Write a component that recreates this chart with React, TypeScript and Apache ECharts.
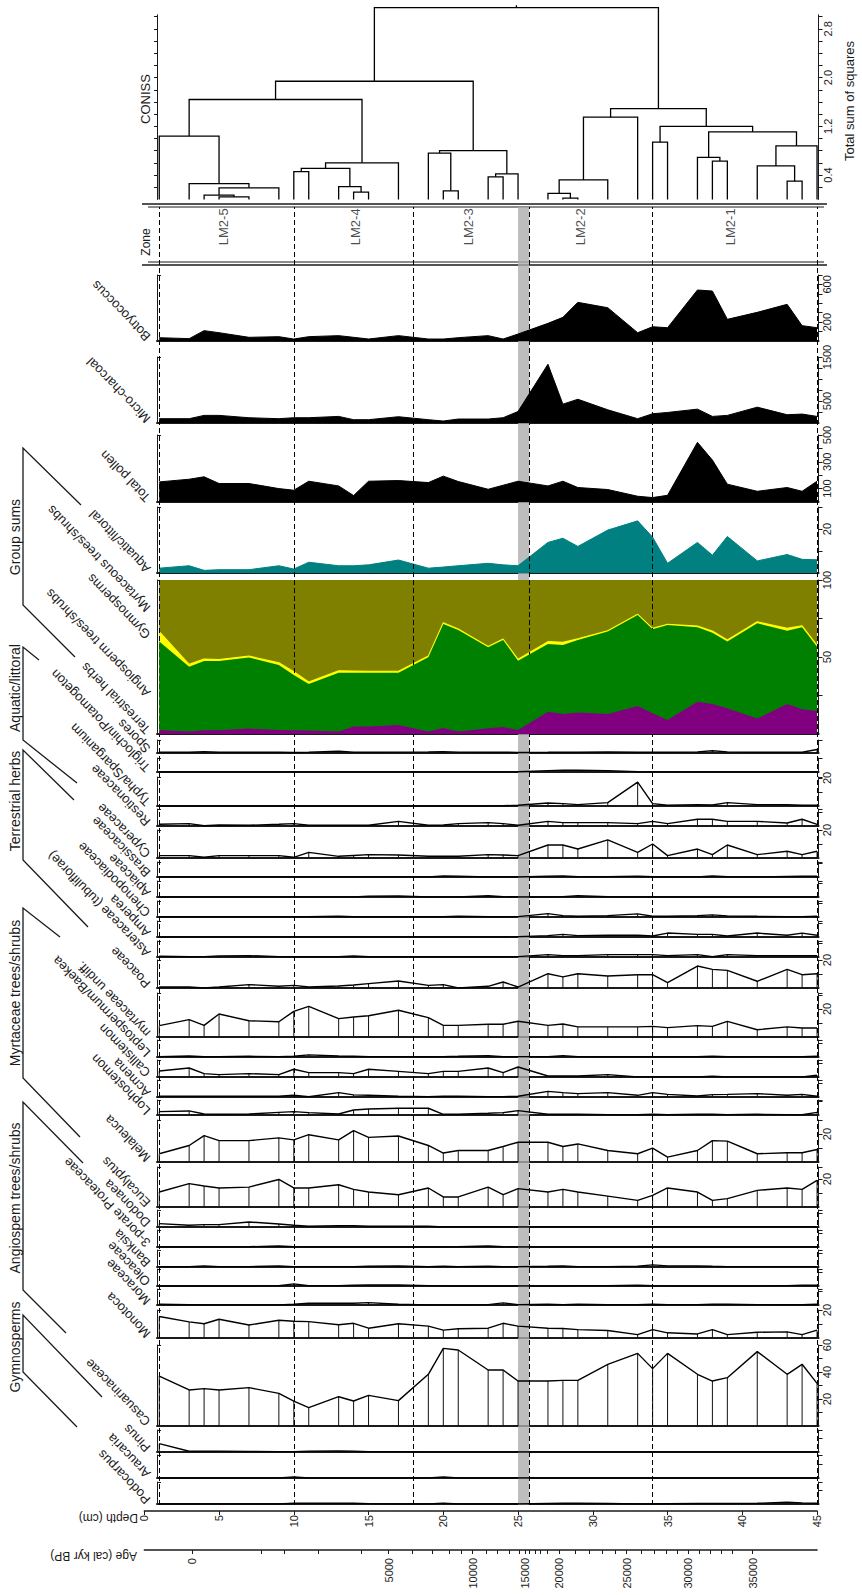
import React, { useEffect, useRef } from "react";
import * as echarts from "echarts";

// ---------------- DATA ----------------
const depths = [1, 3, 4, 5, 7, 9, 10, 11, 13, 14, 15, 17, 19, 20, 21, 23, 24, 25, 27, 28, 29, 31, 33, 34, 35, 37, 38, 39, 41, 43, 44, 45];

const botryococcus = [35, 25, 110, 88, 39, 46, 21, 46, 57, 39, 21, 57, 21, 21, 35, 57, 21, 74, 187, 251, 410, 353, 88, 151, 141, 541, 530, 230, 304, 389, 163, 141];
const microCharcoal = [98, 98, 173, 173, 120, 98, 120, 120, 150, 75, 75, 143, 75, 45, 90, 90, 120, 262, 1335, 428, 540, 300, 98, 210, 240, 315, 150, 173, 360, 188, 203, 150];
const totalPollen = [150, 170, 188, 138, 138, 100, 88, 155, 120, 48, 155, 160, 145, 193, 153, 95, 125, 155, 120, 155, 108, 93, 43, 33, 50, 445, 313, 133, 80, 108, 80, 155];
const aquaticLittoral = [2.2, 3.3, 1.2, 1.5, 1.5, 3.3, 1.8, 4.9, 3.3, 3.3, 3.7, 5.9, 2.2, 2.7, 3.3, 4.4, 3.7, 3.3, 13.9, 15.8, 12.1, 19.5, 23.7, 16.3, 4.4, 13.9, 8.1, 16.6, 5.5, 8.4, 6.2, 6.0];

const terrestrialHerbsPct = [2.6, 1.7, 2.4, 2.4, 3.5, 2.6, 2.4, 2.2, 1.7, 4.8, 4.8, 5.8, 1.7, 3.9, 1.7, 3.7, 4.5, 2.6, 14.5, 13.0, 13.9, 13.0, 18.2, 13.4, 9.1, 21.0, 19.5, 16.7, 10.0, 19.5, 16.0, 15.0];
const angiospermPct = [57.4, 42.0, 45.0, 45.0, 46.1, 42.2, 35.9, 30.3, 38.1, 35.0, 35.0, 34.0, 48.1, 67.5, 65.8, 52.6, 56.5, 45.0, 43.9, 44.8, 47.1, 53.5, 59.1, 54.6, 61.7, 48.3, 46.3, 43.3, 61.9, 47.6, 53.3, 41.7];
const gymnospermPct = [6.4, 1.5, 1.3, 0.9, 1.0, 1.5, 2.2, 1.3, 1.3, 1.1, 0.9, 0.9, 0.8, 0.9, 0.7, 0.6, 0.7, 0.9, 1.6, 1.7, 0.9, 0.6, 0.4, 0.6, 0.4, 0.8, 1.1, 1.0, 1.0, 1.5, 1.0, 0.9];
const myrtaceousPct = [33.6, 54.8, 51.3, 51.7, 49.4, 53.7, 59.5, 66.2, 58.9, 59.1, 59.3, 59.3, 49.4, 27.7, 31.8, 43.1, 38.3, 51.5, 40.0, 40.5, 38.1, 32.9, 22.3, 31.4, 28.8, 29.9, 33.1, 39.0, 27.1, 31.4, 29.7, 42.4];

const spores = [0.6, 0.5, 1.0, 0.5, 0.6, 0.5, 0.4, 0.6, 1.2, 0.6, 0.5, 0.6, 0.8, 1.0, 0.6, 0.5, 0.6, 0.4, 0.5, 0.6, 0.5, 0.8, 0.5, 0.6, 0.5, 0.8, 1.6, 0.8, 0.5, 0.6, 0.5, 2.5];
const triglochin = [0, 0, 0, 0, 0, 0, 0, 0, 0, 0, 0, 0, 0, 0, 0, 0, 0, 0.2, 1.0, 1.2, 1.2, 1.0, 0.2, 0, 0, 0, 0, 0, 0, 0, 0, 0];
const typha = [0, 0, 0, 0, 0, 0, 0, 0, 0, 0, 0, 0, 0, 0, 0, 0, 0.2, 0.5, 2.1, 1.7, 1.0, 2.4, 17.0, 1.7, 0.5, 1.0, 0.7, 2.4, 1.0, 1.0, 0.5, 0.5];
const restionaceae = [1.2, 1.7, 0.2, 0.7, 0.5, 1.2, 1.7, 0.5, 0.5, 0.5, 0.5, 3.3, 0.5, 0.7, 1.7, 2.4, 1.7, 0.5, 3.3, 2.4, 2.4, 2.4, 1.7, 3.3, 1.7, 4.8, 4.8, 3.3, 3.3, 2.1, 4.8, 1.2];
const cyperaceae = [1.7, 1.7, 0.5, 1.7, 1.7, 1.7, 0.5, 4.0, 1.2, 1.8, 2.4, 2.1, 1.2, 1.2, 1.2, 2.4, 2.1, 1.7, 9.3, 9.3, 6.4, 12.9, 4.0, 10.0, 1.7, 6.4, 2.4, 9.3, 2.4, 4.8, 2.4, 4.8];
const brassicaceae = [0, 0, 0, 0, 0, 0, 0, 0, 0, 0, 0, 0, 0, 0.8, 0.6, 0, 0, 0, 0.6, 0.8, 0.3, 0.3, 0.6, 0.2, 0, 0, 0.8, 0.2, 0, 0.4, 0.5, 0.5];
const apiaceae = [0, 0, 0, 0, 0, 0, 0, 0, 0, 0, 0.6, 0.8, 0, 0, 0, 0.9, 0.2, 0, 0, 0.3, 1.0, 0.2, 0, 0, 0, 0, 0, 0, 0, 0, 0, 0];
const chenopodiaceae = [0.2, 0.2, 0.2, 0.2, 0.2, 0.2, 0.2, 0.2, 0.5, 0.2, 0.2, 0.2, 0.2, 0.2, 0.5, 0.2, 0.2, 0.3, 2.4, 1.0, 0.5, 1.0, 2.2, 0.5, 0.5, 1.0, 1.5, 0.8, 0.5, 0.3, 0.3, 0.5];
const amperea = [0, 0, 0, 0, 0, 0, 0, 0, 0, 0, 0, 0, 0, 0, 0, 0, 0, 0.3, 1.0, 1.9, 1.0, 1.2, 1.2, 0.7, 2.8, 1.9, 1.9, 0.7, 2.8, 1.2, 2.8, 1.2];
const asteraceae = [0.5, 0.2, 0.3, 0.8, 1.0, 0.3, 0.2, 0.2, 0.2, 0.8, 0.2, 0.2, 0.2, 0.2, 0.2, 0.2, 0.2, 0.3, 1.7, 1.0, 1.0, 1.7, 1.7, 1.7, 1.0, 1.7, 0.2, 1.7, 1.0, 1.0, 1.0, 1.0];
const poaceae = [0.7, 0.7, 0, 0.7, 2.4, 1.2, 1.9, 0.7, 1.4, 2.1, 3.1, 5.0, 1.9, 2.4, 0, 1.2, 4.3, 0.7, 10.2, 7.9, 10.2, 8.6, 9.5, 9.5, 3.8, 15.7, 13.3, 12.6, 4.8, 13.3, 9.5, 10.2];
const myrtaceaeUndiff = [8.1, 12.4, 8.3, 16.4, 11.6, 10.9, 18.3, 21.9, 13.1, 14.3, 15.2, 19.1, 13.8, 8.3, 8.3, 9.1, 9.1, 11.2, 8.3, 9.3, 7.2, 7.2, 7.2, 7.6, 6.7, 8.1, 7.6, 11.2, 5.2, 7.2, 6.4, 6.4];
const leptospermum = [0.3, 0.7, 0.2, 0.3, 0.5, 0.3, 0.5, 1.5, 0.7, 0.5, 0.3, 0.3, 0.2, 0.3, 0.5, 1.0, 0.3, 0.3, 0.3, 1.0, 0.3, 0.2, 0.2, 0.2, 0.2, 0.2, 0.5, 0.2, 0.3, 0.2, 0.3, 0.5];
const callistemon = [4.3, 6.4, 2.4, 1.7, 2.4, 1.7, 5.5, 3.1, 3.1, 2.4, 5.5, 4.0, 2.4, 4.0, 4.0, 6.4, 3.1, 7.1, 0.7, 0.7, 0.7, 1.7, 0, 0, 0, 0, 0.5, 0, 0, 0, 0, 1.2];
const acmena = [0.5, 0.5, 0.5, 0.5, 0.5, 0.5, 1.2, 0.2, 3.1, 1.5, 1.2, 0.5, 0.3, 0.5, 0.5, 0.3, 0.3, 0.5, 4.0, 3.1, 2.4, 3.1, 1.2, 3.1, 1.9, 0.7, 1.7, 1.9, 2.4, 1.2, 1.9, 0.5];
const lophostemon = [2.4, 2.9, 0.7, 0.5, 0.7, 1.9, 2.4, 1.7, 0.7, 3.6, 4.3, 4.8, 4.8, 0.5, 0.5, 1.2, 1.7, 3.1, 0.5, 0.5, 0.5, 0.3, 0.2, 0.5, 0.2, 0.5, 0.5, 0.3, 0.5, 0.3, 0.2, 1.9];
const melaleuca = [5.9, 11.8, 18.8, 15.3, 15.3, 17.2, 15.8, 19.5, 15.8, 22.4, 17.6, 18.6, 11.8, 6.4, 8.2, 8.2, 11.1, 14.1, 14.1, 11.1, 12.9, 8.2, 5.9, 9.9, 3.5, 8.2, 15.3, 14.9, 5.9, 6.6, 6.6, 8.9];
const eucalyptus = [10.7, 16.7, 15.0, 13.6, 14.2, 19.7, 13.6, 13.6, 15.9, 12.6, 10.7, 8.8, 13.6, 7.2, 7.2, 14.2, 8.8, 13.1, 10.7, 12.6, 10.7, 7.8, 4.7, 8.3, 13.6, 10.7, 4.7, 6.0, 11.9, 13.6, 12.6, 19.0];
const dodonaea = [2.4, 1.2, 1.7, 1.7, 3.6, 2.1, 1.2, 0.5, 1.0, 1.0, 0.5, 0.5, 0.5, 0, 0, 0, 0, 0, 0, 0, 0, 0, 0, 0, 0, 0, 0, 0, 0, 0, 0, 0];
const porate3Proteaceae = [0, 0, 0, 0, 0.2, 0.7, 0.2, 0, 0, 0, 0, 0, 0, 0, 0.2, 0.7, 0.2, 0, 0, 0, 0, 0, 0, 0, 0, 0, 0, 0, 0, 0, 0, 0];
const banksia = [0.2, 0.3, 0.8, 0.3, 0.3, 0.8, 0.3, 0.3, 0.3, 0.3, 0.5, 0.8, 0.3, 0.5, 0.3, 0.5, 0.3, 0.3, 0.5, 0.8, 0.3, 0.3, 0.5, 1.5, 0.8, 0.8, 0.5, 0.3, 0.3, 0.3, 0.3, 0.3];
const oleaceae = [0, 0, 0, 0, 0, 0.2, 1.5, 0.2, 0.2, 0.5, 0.7, 0.8, 0.3, 0, 0, 0, 0, 0, 0, 0, 0.2, 0.2, 0.5, 0.2, 0, 0, 0, 0, 0, 0.3, 0.5, 0.5];
const moraceae = [0.5, 0.2, 0, 0, 0, 0, 0.5, 1.2, 1.2, 1.2, 1.7, 0.5, 0, 0, 0, 0.3, 1.5, 0.3, 0.5, 0.3, 0.5, 0.2, 0.2, 0.5, 0.3, 0.3, 0.5, 0.5, 0.3, 0.2, 0.2, 0.5];
const monotoca = [15.4, 11.5, 10.2, 13.4, 9.3, 12.7, 12.0, 11.7, 9.5, 10.5, 7.0, 10.2, 8.5, 5.6, 6.6, 7.0, 10.5, 8.5, 7.0, 6.8, 6.0, 5.4, 2.4, 6.0, 3.7, 2.9, 6.0, 2.4, 4.1, 4.4, 2.4, 5.6];
const casuarinaceae = [37, 26.7, 27.7, 26.7, 28.4, 24.2, 18.5, 13.6, 21.7, 18.5, 22.7, 18.8, 38.3, 57.5, 56.3, 41.5, 41.5, 33.3, 33.3, 33.8, 33.8, 45.7, 53.8, 42.5, 53.8, 38.3, 33.3, 35.8, 55.1, 38.3, 45.7, 31.6];
const pinus = [6.0, 0.5, 0.5, 0.5, 0.4, 0.3, 0.3, 0.6, 0.7, 0.5, 0.2, 0.2, 0, 0, 0, 0, 0, 0, 0, 0, 0, 0, 0, 0, 0, 0, 0, 0, 0, 0, 0, 0];
const araucaria = [0, 0, 0, 0, 0, 0, 0.7, 0, 0, 0, 0, 0, 0, 0.7, 0, 0, 0, 0, 0, 0, 0, 0, 0, 0, 0, 0, 0, 0, 0, 0, 0, 0];
const podocarpus = [0, 0, 0, 0, 0, 0, 0.5, 0.5, 0.5, 0.5, 0.3, 0, 0, 0.6, 0, 0, 0, 0, 0.4, 0.5, 0.5, 0.4, 0, 0, 0.2, 0.4, 0.4, 0.4, 0.5, 1.2, 0.8, 0.5];

// CONISS merges: [left x, right x, merge height, left child height, right child height]
const dendroMerges = [
  [5, 7, 0.04, 0, 0], [4, 6, 0.07, 0, 0.04], [5, 9, 0.19, 0.07, 0], [3, 7, 0.26, 0, 0.19], [1, 5, 1.04, 0, 0.26],
  [10, 11, 0.455, 0, 0], [14, 15, 0.12, 0, 0], [13, 14.5, 0.21, 0, 0.12], [10.5, 13.75, 0.51, 0.455, 0.21], [12.125, 17, 0.6, 0.51, 0],
  [3, 14.5625, 1.64, 1.04, 0.6],
  [20, 21, 0.14, 0, 0], [19, 20.5, 0.76, 0, 0.14], [23, 24, 0.37, 0, 0], [23.5, 25, 0.42, 0.37, 0], [19.75, 24.25, 0.8, 0.76, 0.42],
  [8.78, 22, 1.94, 1.64, 0.8],
  [28, 29, 0.02, 0, 0], [27, 28.5, 0.1, 0, 0.02], [27.75, 31, 0.32, 0.1, 0], [29.375, 33, 1.35, 0.32, 0],
  [34, 35, 0.94, 0, 0], [38, 39, 0.63, 0, 0], [37, 38.5, 0.69, 0, 0.63], [43, 44, 0.3, 0, 0], [41, 43.5, 0.55, 0, 0.3],
  [42.25, 45, 0.88, 0.55, 0], [37.75, 43.625, 1.11, 0.69, 0.88], [34.5, 40.69, 1.2, 0.94, 1.11], [31.19, 37.59, 1.49, 1.35, 1.2],
  [15.39, 34.39, 3.15, 1.94, 1.49], [24.89, 24.89, 3.19, 3.15, 3.15],
];
const sumSquaresLabels = [0.4, 1.2, 2.0, 2.8];

const zoneNames = ["LM2-5", "LM2-4", "LM2-3", "LM2-2", "LM2-1"];
const zoneLabelDepths = [5.33, 14.1, 21.7, 29.2, 39.2];
const zoneBoundaries = [1, 10, 18, 25.75, 34, 45];
const hiatusDepths = [25.0, 25.75];

const ageTickDepths = [3.2, 7.85, 9.33, 11.63, 14.5, 16.34, 17.91, 19.24, 20.42, 21.22, 21.96, 22.85, 23.62, 24.42, 25.07, 25.45, 25.75, 26.13, 26.49, 26.93, 27.76, 28.85, 29.74, 30.63, 31.52, 32.26, 33.23, 34.09, 34.92, 35.66, 36.4, 37.14, 37.88, 38.62, 39.35, 40.69];
const ageLabelDepths = [3.2, 16.34, 21.96, 25.45, 27.76, 32.26, 36.4, 40.69];
const ageLabels = ["0", "5000", "10000", "15000", "20000", "25000", "30000", "35000"];

// ---------------- LAYOUT ----------------
const X0 = 144.3;
const PXCM = 14.95;
const PMIN = 0.85;
const PMAX = 45.1;
const GL = X0 + PMIN * PXCM;
const GW = (PMAX - PMIN) * PXCM;
const PCT_PX = 1.4;
const FONT = "'Liberation Sans', Arial, Helvetica, sans-serif";
const INK = "#1a1a1a";
const LABEL_X = 148;
const LABEL_ROT = (134 * Math.PI) / 180;

const sumPanels = [
  { name: "Botryococcus", top: 275, bottom: 341, max: 700, step: 100, labels: [200, 600], values: botryococcus, color: "#000000" },
  { name: "Micro-charcoal", top: 357, bottom: 423, max: 1500, step: 250, labels: [500, 1500], values: microCharcoal, color: "#000000" },
  { name: "Total pollen", top: 435, bottom: 502, max: 500, step: 100, labels: [100, 300, 500], values: totalPollen, color: "#000000" },
  { name: "Aquatic/littoral", top: 507, bottom: 573, max: 30, step: 10, labels: [20], values: aquaticLittoral, color: "#008080" },
];

const stackPanel = { top: 580, bottom: 734 };
// bottom-to-top order of the stacked group sums
const stackLayers = [
  { name: "Terrestrial herbs", values: terrestrialHerbsPct, color: "#800080", labelY: 732 },
  { name: "Angiosperm trees/shrubs", values: angiospermPct, color: "#008000", labelY: 695 },
  { name: "Gymnosperms", values: gymnospermPct, color: "#ffff00", labelY: 637 },
  { name: "Myrtaceous trees/shrubs", values: myrtaceousPct, color: "#808000", labelY: 610 },
];

const pctPanels: any[] = [
  { name: "Spores", top: 740, bottom: 753, values: spores, labels: [] },
  { name: "Triglochin/Potamogeton", top: 758, bottom: 772, values: triglochin, labels: [] },
  { name: "Typha/Sparganium", top: 777, bottom: 806, values: typha, labels: [20] },
  { name: "Restionaceae", top: 809, bottom: 826, values: restionaceae, labels: [] },
  { name: "Cyperaceae", top: 830, bottom: 858, values: cyperaceae, labels: [20] },
  { name: "Brassicaceae", top: 862, bottom: 877, values: brassicaceae, labels: [] },
  { name: "Apiaceae", top: 881, bottom: 897, values: apiaceae, labels: [] },
  { name: "Chenopodiaceae", top: 901, bottom: 917, values: chenopodiaceae, labels: [] },
  { name: "Amperea", top: 921, bottom: 937, values: amperea, labels: [] },
  { name: "Asteraceae (tubuliflorae)", top: 941, bottom: 957, values: asteraceae, labels: [] },
  { name: "Poaceae", top: 960, bottom: 988, values: poaceae, labels: [20] },
  { name: "myrtaceae undiff.", top: 993, bottom: 1037, values: myrtaceaeUndiff, labels: [20] },
  { name: "Leptospermum/Baekea", top: 1040, bottom: 1057, values: leptospermum, labels: [] },
  { name: "Callistemon", top: 1060, bottom: 1077, values: callistemon, labels: [] },
  { name: "Acmena", top: 1080, bottom: 1097, values: acmena, labels: [] },
  { name: "Lophostemon", top: 1100, bottom: 1115, values: lophostemon, labels: [] },
  { name: "Melaleuca", top: 1120, bottom: 1162, values: melaleuca, labels: [20] },
  { name: "Eucalyptus", top: 1167, bottom: 1207, values: eucalyptus, labels: [20] },
  { name: "Dodonaea", top: 1210, bottom: 1227, values: dodonaea, labels: [] },
  { name: "3-porate Proteaceae", top: 1230, bottom: 1247, values: porate3Proteaceae, labels: [] },
  { name: "Banksia", top: 1250, bottom: 1267, values: banksia, labels: [] },
  { name: "Oleaceae", top: 1269, bottom: 1286, values: oleaceae, labels: [] },
  { name: "Moraceae", top: 1289, bottom: 1305, values: moraceae, labels: [] },
  { name: "Monotoca", top: 1310, bottom: 1338, values: monotoca, labels: [20] },
  { name: "Casuarinaceae", top: 1345, bottom: 1426, values: casuarinaceae, labels: [20, 40, 60], max: 60 },
  { name: "Pinus", top: 1430, bottom: 1452, values: pinus, labels: [] },
  { name: "Araucaria", top: 1455, bottom: 1478, values: araucaria, labels: [] },
  { name: "Podocarpus", top: 1482, bottom: 1504, values: podocarpus, labels: [] },
];

const groups = [
  { name: "Group sums", labelY: 537, pts: [[81, 505], [23, 448], [23, 605], [75, 657]] },
  { name: "Aquatic/littoral", labelY: 688, pts: [[39, 660], [23, 647], [23, 740], [77, 783]] },
  { name: "Terrestrial herbs", labelY: 801, pts: [[74, 800], [23, 750], [23, 860], [88, 927]] },
  { name: "Myrtaceae trees/shrubs", labelY: 993, pts: [[60, 937], [23, 908], [23, 1078], [80, 1137]] },
  { name: "Angiospem trees/shrubs", labelY: 1198, pts: [[83, 1163], [23, 1102], [23, 1290], [66, 1333]] },
  { name: "Gymnosperms", labelY: 1347, pts: [[102, 1397], [23, 1315], [23, 1372], [77, 1427]] },
];

function steps(step: number, max: number) {
  const out: number[] = [];
  for (let i = 1; i * step <= max + 1e-9; i++) out.push(Math.round(i * step * 1000) / 1000);
  if (!out.length || Math.abs(out[out.length - 1] - max) > 1e-6) out.push(max);
  return out;
}

function buildOption() {
  const grid: any[] = [];
  const xAxis: any[] = [];
  const yAxis: any[] = [];
  const series: any[] = [];
  const graphic: any[] = [];

  const addGrid = (left: number, top: number, width: number, height: number) => {
    grid.push({ left, top, width, height, containLabel: false, outerBoundsMode: "none" });
    return grid.length - 1;
  };

  const addPanel = (top: number, bottom: number, max: number, ticks: number[], labels: number[], fmt: (v: number) => string) => {
    const gi = addGrid(GL, top, GW, bottom - top);
    xAxis.push({
      type: "value", gridIndex: gi, min: PMIN, max: PMAX,
      axisLine: { show: true, lineStyle: { color: INK, width: 2 } },
      axisTick: { show: false }, axisLabel: { show: false }, splitLine: { show: false },
    });
    const xi = xAxis.length - 1;
    yAxis.push({
      type: "value", gridIndex: gi, position: "right", min: 0, max,
      axisLine: { show: true, onZero: false, lineStyle: { color: INK, width: 1 } },
      axisTick: { show: true, length: 4, customValues: ticks, lineStyle: { color: INK, width: 1 } },
      axisLabel: {
        show: labels.length > 0, customValues: labels, rotate: 90, margin: 3, fontSize: 11, color: INK, fontFamily: FONT,
        showMinLabel: true, showMaxLabel: true,
        formatter: (v: number) => (labels.some((l) => Math.abs(l - v) < 1e-6) ? fmt(v) : ""),
      },
      splitLine: { show: false },
    });
    const yi = yAxis.length - 1;
    yAxis.push({
      type: "value", gridIndex: gi, position: "left", min: 0, max,
      axisLine: { show: true, onZero: false, lineStyle: { color: INK, width: 1 } },
      axisTick: { show: true, inside: true, length: 4, customValues: [max], lineStyle: { color: INK, width: 1 } },
      axisLabel: { show: false }, splitLine: { show: false },
    });
    return { xi, yi };
  };

  const taxonLabel = (text: string, y: number) => {
    graphic.push({
      type: "text", x: LABEL_X, y, rotation: LABEL_ROT, silent: true,
      style: { text, fontSize: 13, fontFamily: FONT, fill: INK, align: "left", verticalAlign: "middle", textAlign: "left", textVerticalAlign: "middle" },
    });
  };

  // ---- CONISS dendrogram ----
  const dgZero = 199.4;
  const dgMax = 3.03;
  const dgTop = dgZero - dgMax * 60.9;
  const dgi = addGrid(GL, dgTop, GW, dgZero - dgTop);
  xAxis.push({ type: "value", gridIndex: dgi, min: PMIN, max: PMAX, show: false });
  const dxi = xAxis.length - 1;
  const dTicks = steps(0.2, 3.0).filter((v) => v <= 3.0 + 1e-9);
  yAxis.push({
    type: "value", gridIndex: dgi, position: "right", min: 0, max: dgMax,
    axisLine: { show: true, onZero: false, lineStyle: { color: INK, width: 1 } },
    axisTick: { show: true, length: 4, customValues: dTicks, lineStyle: { color: INK } },
    axisLabel: {
      show: true, customValues: sumSquaresLabels, rotate: 90, margin: 4, fontSize: 11, color: INK, fontFamily: FONT,
      formatter: (v: number) => (sumSquaresLabels.some((l) => Math.abs(l - v) < 1e-6) ? v.toFixed(1) : ""),
    },
    splitLine: { show: false },
  });
  const dyi = yAxis.length - 1;
  yAxis.push({
    type: "value", gridIndex: dgi, position: "left", min: 0, max: dgMax,
    axisLine: { show: true, onZero: false, lineStyle: { color: INK, width: 1 } },
    axisTick: { show: true, length: 3, customValues: dTicks, lineStyle: { color: INK } },
    axisLabel: { show: false }, splitLine: { show: false },
  });
  series.push({
    type: "custom", xAxisIndex: dxi, yAxisIndex: dyi, clip: false, silent: true,
    data: dendroMerges,
    encode: { x: [0, 1], y: [2, 3, 4] },
    renderItem: (params: any, api: any) => {
      const xl = api.value(0), xr = api.value(1), h = api.value(2), hl = api.value(3), hr = api.value(4);
      const a = api.coord([xl, hl]), b = api.coord([xl, h]), c = api.coord([xr, h]), d = api.coord([xr, hr]);
      return { type: "polyline", shape: { points: [a, b, c, d] }, style: { stroke: "#000", lineWidth: 1.3, fill: "none" } };
    },
  });

  // ---- Zone strip ----
  const zgi = addGrid(GL, 207, GW, 55);
  xAxis.push({ type: "value", gridIndex: zgi, min: PMIN, max: PMAX, show: false });
  yAxis.push({ type: "value", gridIndex: zgi, min: 0, max: 1, show: false });
  series.push({
    type: "scatter", xAxisIndex: xAxis.length - 1, yAxisIndex: yAxis.length - 1, silent: true,
    symbolSize: 1, itemStyle: { color: "rgba(0,0,0,0)" },
    data: zoneLabelDepths.map((d, i) => [d, 0.64, zoneNames[i]]),
    label: { show: true, position: "inside", rotate: 90, fontSize: 13, color: INK, fontFamily: FONT, formatter: (p: any) => p.data[2] },
  });

  // ---- Sum panels (black / teal silhouettes) ----
  sumPanels.forEach((p) => {
    const { xi, yi } = addPanel(p.top, p.bottom, p.max, steps(p.step, p.max), p.labels, (v) => String(Math.round(v)));
    series.push({
      type: "line", xAxisIndex: xi, yAxisIndex: yi, silent: true, symbol: "none",
      data: depths.map((d, i) => [d, p.values[i]]),
      lineStyle: { color: p.color, width: 1 },
      areaStyle: { color: p.color, opacity: 1 },
    });
    taxonLabel(p.name, p.bottom - 2);
  });

  // ---- Stacked percentage panel (cumulative layers drawn top layer first) ----
  {
    const { xi, yi } = addPanel(stackPanel.top, stackPanel.bottom, 100, [25, 50, 75, 100], [50, 100], (v) => String(Math.round(v)));
    const cum: number[][] = [];
    stackLayers.forEach((layer, li) => {
      cum.push(layer.values.map((v, i) => (li > 0 ? cum[li - 1][i] : 0) + v));
    });
    for (let li = stackLayers.length - 1; li >= 0; li--) {
      const layer = stackLayers[li];
      const isYellow = layer.color === "#ffff00";
      series.push({
        type: "line", xAxisIndex: xi, yAxisIndex: yi, silent: true, symbol: "none",
        z: 2 + (stackLayers.length - li),
        data: depths.map((d, i) => [d, Math.min(cum[li][i], 100)]),
        lineStyle: isYellow ? { color: "#ffff00", width: 1.1 } : { width: 0, color: layer.color },
        areaStyle: { color: layer.color, opacity: 1 },
      });
    }
    stackLayers.forEach((layer) => taxonLabel(layer.name, layer.labelY));
  }

  // ---- Percentage taxon panels ----
  pctPanels.forEach((p) => {
    const max = p.max != null ? p.max : Math.round(((p.bottom - p.top) / PCT_PX) * 10) / 10;
    const { xi, yi } = addPanel(p.top, p.bottom, max, steps(10, max), p.labels, (v) => String(Math.round(v)));
    const pts = depths.map((d, i) => [d, p.values[i]]);
    series.push({
      type: "bar", xAxisIndex: xi, yAxisIndex: yi, silent: true, barWidth: 1,
      data: pts, itemStyle: { color: "#111" },
    });
    series.push({
      type: "line", xAxisIndex: xi, yAxisIndex: yi, silent: true, symbol: "none",
      data: pts, lineStyle: { color: "#000", width: 1.4 },
    });
    taxonLabel(p.name, p.bottom - 2);
  });

  // ---- Overlay: zone boundaries and hiatus band ----
  const ogi = addGrid(GL, 207, GW, 1505 - 207);
  xAxis.push({ type: "value", gridIndex: ogi, min: PMIN, max: PMAX, show: false });
  yAxis.push({ type: "value", gridIndex: ogi, min: 0, max: 1, show: false });
  series.push({
    type: "scatter", xAxisIndex: xAxis.length - 1, yAxisIndex: yAxis.length - 1, silent: true, z: 20,
    symbolSize: 1, itemStyle: { color: "rgba(0,0,0,0)" }, data: [[PMIN + 0.1, 0.5]],
    markArea: {
      silent: true, itemStyle: { color: "rgba(172,172,172,0.8)" },
      data: [[{ xAxis: hiatusDepths[0] }, { xAxis: hiatusDepths[1] }]],
    },
    markLine: {
      silent: true, symbol: ["none", "none"], label: { show: false },
      lineStyle: { type: [5, 3], color: "#000", width: 1 },
      data: zoneBoundaries.map((d) => ({ xAxis: d })),
    },
  });

  // ---- Depth axis ----
  const depthGi = addGrid(X0, 1510, 45 * PXCM, 1);
  xAxis.push({
    type: "value", gridIndex: depthGi, position: "bottom", min: 0, max: 45, interval: 5,
    axisLine: { show: true, onZero: false, lineStyle: { color: INK, width: 1.5 } },
    axisTick: { show: true, length: 4, lineStyle: { color: INK } },
    axisLabel: { rotate: 90, margin: 4, fontSize: 11, color: INK, fontFamily: FONT, showMinLabel: true, showMaxLabel: true },
    splitLine: { show: false },
  });
  yAxis.push({ type: "value", gridIndex: depthGi, show: false });

  // ---- Age axis ----
  const ageGi = addGrid(X0, 1549, 45 * PXCM, 1);
  xAxis.push({
    type: "value", gridIndex: ageGi, position: "bottom", min: 0, max: 45,
    axisLine: { show: true, onZero: false, lineStyle: { color: INK, width: 1.5 } },
    axisTick: { show: true, length: 4, customValues: ageTickDepths, lineStyle: { color: INK } },
    axisLabel: {
      customValues: ageLabelDepths, rotate: 90, margin: 8, fontSize: 11, color: INK, fontFamily: FONT,
      showMinLabel: true, showMaxLabel: true,
      formatter: (v: number) => {
        const i = ageLabelDepths.findIndex((d) => Math.abs(d - v) < 1e-6);
        return i >= 0 ? ageLabels[i] : "";
      },
    },
    splitLine: { show: false },
  });
  yAxis.push({ type: "value", gridIndex: ageGi, show: false });

  // ---- Frame lines around zone strip ----
  [[204, 1.6, 142, 827], [207, 1.2, 148, 824], [262, 1.2, 148, 824], [265, 1.6, 142, 827]].forEach(([y, w, x1, x2]) => {
    graphic.push({ type: "line", silent: true, shape: { x1, y1: y, x2, y2: y }, style: { stroke: INK, lineWidth: w } });
  });

  // ---- Group brackets ----
  groups.forEach((g) => {
    graphic.push({ type: "polyline", silent: true, shape: { points: g.pts }, style: { stroke: INK, lineWidth: 1.3, fill: "none" } });
    graphic.push({
      type: "text", x: 15, y: g.labelY, rotation: Math.PI / 2, silent: true,
      style: { text: g.name, fontSize: 14, fontFamily: FONT, fill: INK, align: "center", verticalAlign: "middle", textAlign: "center", textVerticalAlign: "middle" },
    });
  });

  // ---- Misc titles ----
  const addText = (text: string, x: number, y: number, rotation: number, align: string, fontSize: number) => {
    graphic.push({
      type: "text", x, y, rotation, silent: true,
      style: { text, fontSize, fontFamily: FONT, fill: INK, align, verticalAlign: "middle", textAlign: align, textVerticalAlign: "middle" },
    });
  };
  addText("CONISS", 145.6, 99, Math.PI / 2, "center", 13);
  addText("Total sum of squares", 849, 101, Math.PI / 2, "center", 13);
  addText("Zone", 145.6, 242, Math.PI / 2, "center", 12);
  addText("Depth (cm)", 138, 1518, Math.PI, "left", 12);
  addText("Age (cal kyr BP)", 137, 1556, Math.PI, "left", 12);

  return {
    animation: false,
    backgroundColor: "#ffffff",
    textStyle: { fontFamily: FONT },
    grid, xAxis, yAxis, series, graphic,
  };
}

export default function App() {
  const ref = useRef<HTMLDivElement>(null);
  useEffect(() => {
    if (!ref.current) return;
    const chart = echarts.init(ref.current, null, { renderer: "svg" });
    chart.setOption(buildOption() as any);
    return () => chart.dispose();
  }, []);
  return <div ref={ref} style={{ position: "absolute", left: 0, top: 0, width: 862, height: 1595 }} />;
}
